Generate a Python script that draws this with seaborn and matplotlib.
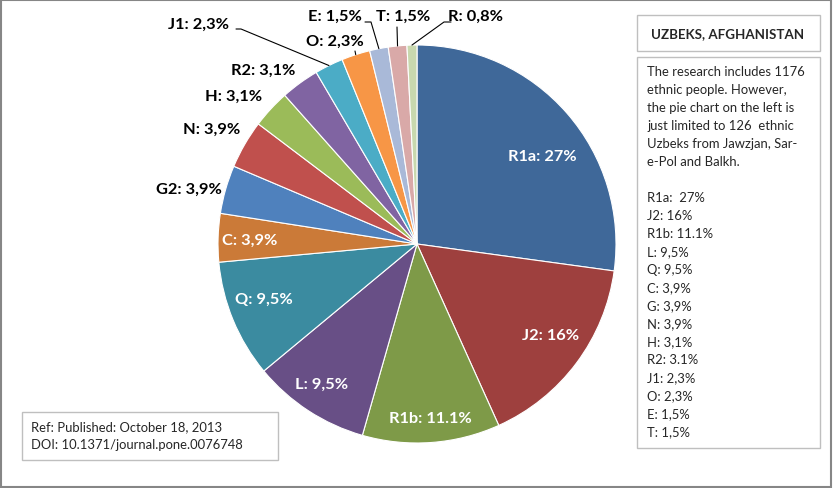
import numpy as np
import matplotlib
matplotlib.use('Agg')
import matplotlib.pyplot as plt
import seaborn as sns
from matplotlib.patches import Rectangle

# haplogroup shares (%) for 126 Uzbeks
groups = ['R1a', 'J2', 'R1b', 'L', 'Q', 'C', 'G2', 'N', 'H', 'R2', 'J1', 'O', 'E', 'T', 'R']
shares = [27, 16, 11.1, 9.5, 9.5, 3.9, 3.9, 3.9, 3.1, 3.1, 2.3, 2.3, 1.5, 1.5, 0.8]
share_text = ['27%', '16%', '11.1%', '9,5%', '9,5%', '3,9%', '3,9%', '3,9%',
              '3,1%', '3,1%', '2,3%', '2,3%', '1,5%', '1,5%', '0,8%']
colors = ['#3F6899', '#9E403E', '#7E9A48', '#684F86', '#3B8BA0', '#CB7A38',
          '#4F81BD', '#C0504D', '#9BBB59', '#8064A2', '#4BACC6', '#F79646',
          '#A9B9D8', '#D9A9A8', '#C8D8AE']

side_lines = ['R1a:  27%', 'J2: 16%', 'R1b: 11.1%', 'L: 9,5%', 'Q: 9,5%', 'C: 3,9%',
              'G: 3,9%', 'N: 3,9%', 'H: 3,1%', 'R2: 3.1%', 'J1: 2,3%', 'O: 2,3%',
              'E: 1,5%', 'T: 1,5%']

# label placement (pixel coords, y from top); inside labels are white
label_pos = {'R1a': (542, 157), 'J2': (551, 336), 'R1b': (430, 419), 'L': (322, 385),
             'Q': (264, 300), 'C': (250, 241), 'G2': (189, 190), 'N': (212, 130),
             'H': (234, 97), 'R2': (263, 71), 'J1': (198, 25), 'O': (335, 42),
             'E': (335, 17), 'T': (403, 17), 'R': (476, 17)}
inside = ['R1a', 'J2', 'R1b', 'L', 'Q', 'C']
# leader lines: start point near label (pixel coords), end on the wedge edge
leaders = {'J1': [(236, 30), (241, 30)], 'O': [(355, 52)], 'E': [(365, 23), (371, 23)],
           'T': [(397, 28)], 'R': [(451, 23), (444, 23)]}

sns.set_style('white')
plt.rcParams['font.family'] = ['Lato', 'DejaVu Sans']

W, H = 833, 489
fig = plt.figure(figsize=(W / 100, H / 100), dpi=100)
ax = fig.add_axes([0, 0, 1, 1])

cx, cy, rad = 417, H - 245, 199
wedges, _ = ax.pie(shares, colors=colors, startangle=90, counterclock=False,
                   center=(cx, cy), radius=rad, frame=True,
                   wedgeprops=dict(edgecolor='white', linewidth=0.8))
ax.set_xlim(0, W)
ax.set_ylim(0, H)
ax.set_aspect('equal')
ax.axis('off')

for g, t, w in zip(groups, share_text, wedges):
    x, y = label_pos[g]
    col = 'white' if g in inside else 'black'
    ax.text(x, H - y, f'{g}: {t}', ha='center', va='center', fontsize=11.8,
            fontweight='bold', color=col)
    if g in leaders:
        mid = np.deg2rad((w.theta1 + w.theta2) / 2)
        ex, ey = cx + rad * np.cos(mid), cy + rad * np.sin(mid)
        pts = [(px, H - py) for px, py in leaders[g]] + [(ex, ey)]
        xs, ys = zip(*pts)
        ax.plot(xs, ys, color='black', lw=0.8)

# outer frame
ax.add_patch(Rectangle((0.5, 1.5), W - 2, H - 2.5, fill=False, edgecolor='#868686', lw=1.5))

# title box
ax.add_patch(Rectangle((637, H - 52), 183, 36, fill=False, edgecolor='#BFBFBF', lw=1))
ax.text(728, H - 34, 'UZBEKS, AFGHANISTAN', ha='center', va='center',
        fontsize=9.6, fontweight='bold')

# description box
ax.add_patch(Rectangle((637, H - 449), 183, 391, fill=False, edgecolor='#BFBFBF', lw=1))
desc = ['The research includes 1176', 'ethnic people. However,',
        'the pie chart on the left is', 'just limited to 126  ethnic',
        'Uzbeks from Jawzjan, Sar-', 'e-Pol and Balkh.', ''] + side_lines
for i, line in enumerate(desc):
    ax.text(647, H - (72 + 18 * i), line, ha='left', va='center', fontsize=9.4)

# reference box
ax.add_patch(Rectangle((22, H - 461), 256, 48, fill=False, edgecolor='#BFBFBF', lw=1))
ax.text(31, H - 427, 'Ref: Published: October 18, 2013', ha='left', va='center', fontsize=9.4)
ax.text(31, H - 445, 'DOI: 10.1371/journal.pone.0076748', ha='left', va='center', fontsize=9.4)

fig.savefig('out.png', dpi=100)
